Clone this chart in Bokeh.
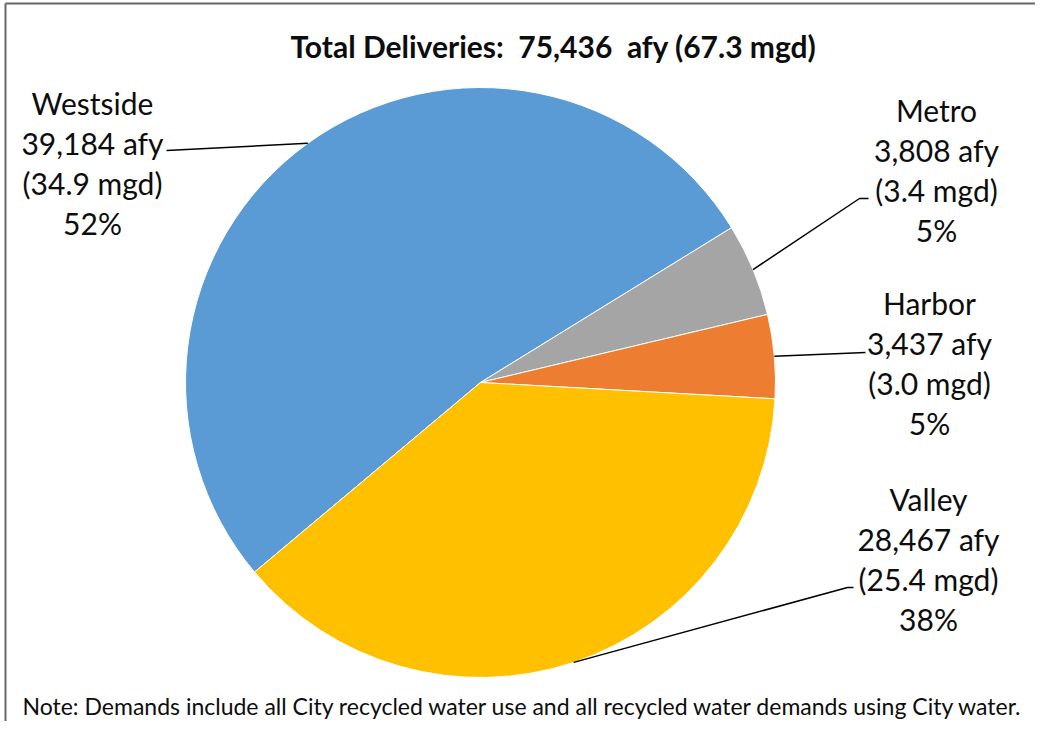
import math
from bokeh.plotting import figure
from bokeh.models import Range1d
from bokeh.core.properties import value
from bokeh.embed import file_html
from bokeh.resources import INLINE

# ---- data ----
regions = ["Westside", "Metro", "Harbor", "Valley"]
afy = [39184, 3808, 3437, 28467]
mgd = [34.9, 3.4, 3.0, 25.4]
colors = ["#5B9BD5", "#A5A5A5", "#ED7D31", "#FFC000"]
total_afy = 75436
total_mgd = 67.3
NB = "\u00a0"
title_text = f"Total Deliveries:{NB}{NB}{total_afy:,}{NB}{NB}afy ({total_mgd} mgd)"
note_text = "Note: Demands include all City recycled water use and all recycled water demands using City water."

# ---- layout (screen-like coords: x right, y = 737 - screen_y) ----
W, H = 1035, 721
def Y(sy):
    return 737 - sy

cx, cy, R = 480, Y(382), 295
start_deg = 220.0  # first slice starts here, slices go clockwise

# label block centres (x, y of first line) and leader line bends
label_pos = [(92, 102), (936, 109), (929, 302), (928, 498)]
leader_end = [[(166, 150)], [(859, 198), (868, 198)], [(865, 352)], [(847, 587), (853, 587)]]
line_gap = 40

FONT = "Lato"

p = figure(width=W, height=H, x_range=Range1d(0, W), y_range=Range1d(737 - H, 737),
           output_backend="svg", toolbar_location=None, min_border=0,
           x_axis_location=None, y_axis_location=None, tools="")
p.grid.visible = False
p.outline_line_color = None
p.background_fill_color = "white"
p.border_fill_color = "white"

sum_v = sum(afy)
ang = math.radians(start_deg)
starts, ends, mids = [], [], []
for v in afy:
    sweep = v / sum_v * 2 * math.pi
    end = ang - sweep
    starts.append(end)
    ends.append(ang)
    mids.append(ang - sweep / 2)
    ang = end

p.wedge(x=[cx] * 4, y=[cy] * 4, radius=R, start_angle=starts, end_angle=ends,
        fill_color=colors, line_color="white", line_width=1)

# leader lines
for i in range(4):
    ex = cx + R * math.cos(mids[i])
    ey = cy + R * math.sin(mids[i])
    xs = [ex] + [pt[0] for pt in leader_end[i]]
    ys = [ey] + [Y(pt[1]) for pt in leader_end[i]]
    p.line(xs, ys, line_color="black", line_width=1.5)

# labels
for i in range(4):
    pct = round(afy[i] / total_afy * 100)
    lines = [regions[i], f"{afy[i]:,} afy", f"({mgd[i]:.1f} mgd)", f"{pct}%"]
    lx, ly = label_pos[i]
    p.text(x=[lx] * 4, y=[Y(ly + k * line_gap) for k in range(4)], text=lines,
           text_align="center", text_baseline="middle",
           text_font=value(FONT), text_font_size="30px", text_color="#0d0d0d")

# title and note
p.text(x=[553], y=[Y(45)], text=[title_text], text_align="center", text_baseline="middle",
       text_font=value(FONT), text_font_size="30px", text_font_style="bold", text_color="#0d0d0d")
p.text(x=[22], y=[Y(705)], text=[note_text], text_align="left", text_baseline="middle",
       text_font=value(FONT), text_font_size="23px", text_color="#0d0d0d")

# chart border (top and left edges visible)
p.line([5, 5], [Y(737), Y(3)], line_color="#666666", line_width=2)
p.line([5, 1035], [Y(3), Y(3)], line_color="#666666", line_width=2)

open("out.html", "w").write(file_html(p, INLINE))
